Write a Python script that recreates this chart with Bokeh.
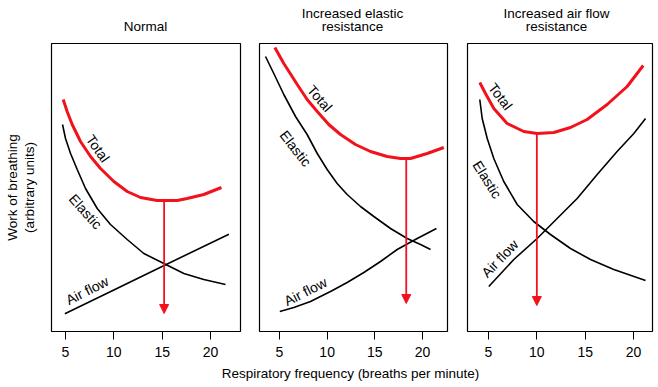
from bokeh.plotting import figure
from bokeh.layouts import row, column
from bokeh.models import Range1d, FixedTicker, Arrow, NormalHead
from bokeh.core.properties import value
from bokeh.embed import file_html
from bokeh.resources import INLINE

FONT = "Liberation Sans"
RED = "#f2121c"

freq_ticks = [5, 10, 15, 20]
panel_titles = ["Normal", "Increased elastic", "resistance", "Increased air flow", "resistance"]
x_label = "Respiratory frequency (breaths per minute)"
y_label = "Work of breathing\n(arbitrary units)"
curve_names = ["Total", "Elastic", "Air flow"]

# ---- Panel 1: Normal ----
normal_total_x = [4.76, 5.17, 5.69, 6.55, 7.59, 8.62, 10.0, 11.38, 12.76, 14.48, 15.17, 16.55, 17.58, 19.3, 21.13]
normal_total_y = [232, 220, 207, 190, 175, 163, 150, 140, 134, 131, 131, 131, 133, 137, 144]
normal_elastic_x = [4.69, 5.0, 5.52, 6.21, 7.07, 8.28, 9.65, 11.38, 13.1, 15.17, 17.24, 19.3, 21.55]
normal_elastic_y = [207, 193, 178, 162, 143, 123, 107, 92, 78, 68, 58, 52, 47]
normal_airflow_x = [4.93, 10.0, 15.2, 21.9]
normal_airflow_y = [17.7, 41.5, 66.0, 97.3]
normal_optimum = 15.2
normal_arrow_y = [131, 18]

# ---- Panel 2: Increased elastic resistance ----
elastic_total_x = [4.51, 5.45, 6.86, 7.9, 8.96, 10.17, 11.4, 12.97, 14.55, 16.3, 17.7, 18.75, 20.5, 22.24]
elastic_total_y = [284, 268, 247, 232, 220, 207, 197, 187, 180, 175, 173, 173, 178, 184]
elastic_elastic_x = [3.53, 4.4, 5.45, 6.68, 7.9, 8.96, 10.0, 11.05, 12.1, 13.5, 14.9, 16.65, 18.4, 19.8, 20.85]
elastic_elastic_y = [275, 258, 237, 215, 197, 178, 162, 148, 137, 125, 115, 103, 93, 87, 82]
elastic_airflow_x = [5.03, 6.5, 8.25, 10.35, 12.1, 13.85, 15.6, 17.35, 19.45, 21.47]
elastic_airflow_y = [20, 24, 30, 40, 49, 59, 70, 82, 93, 103]
elastic_optimum = 18.3
elastic_arrow_y = [173, 28]

# ---- Panel 3: Increased air flow resistance ----
airflow_total_x = [4.1, 4.69, 5.55, 6.93, 8.65, 10.03, 11.75, 13.48, 15.2, 17.27, 19.34, 21.0]
airflow_total_y = [249, 238, 223, 208, 200, 198, 199, 204, 212, 227, 245, 266]
airflow_elastic_x = [4.1, 4.35, 4.87, 5.55, 6.58, 7.97, 9.68, 11.41, 13.48, 15.55, 17.96, 21.24]
airflow_elastic_y = [232, 213, 193, 173, 150, 127, 110, 97, 83, 72, 62, 51]
airflow_airflow_x = [5.03, 7.62, 10.03, 12.1, 14.17, 16.24, 18.3, 20.03, 21.24]
airflow_airflow_y = [45, 72, 93, 113, 133, 157, 180, 198, 213]
airflow_optimum = 10.0
airflow_arrow_y = [198, 26]

# curve label positions (x, y, angle deg)
label_pos = [
    [(8.34, 183, -55), (7.07, 120, -48), (7.24, 41, 27)],
    [(9.23, 233, -49), (6.68, 183, -52), (7.73, 40, 27)],
    [(6.24, 235, -53), (4.87, 152, -58), (6.17, 73, 46)],
]

panels = [
    (normal_total_x, normal_total_y, normal_elastic_x, normal_elastic_y,
     normal_airflow_x, normal_airflow_y, normal_optimum, normal_arrow_y),
    (elastic_total_x, elastic_total_y, elastic_elastic_x, elastic_elastic_y,
     elastic_airflow_x, elastic_airflow_y, elastic_optimum, elastic_arrow_y),
    (airflow_total_x, airflow_total_y, airflow_elastic_x, airflow_elastic_y,
     airflow_airflow_x, airflow_airflow_y, airflow_optimum, airflow_arrow_y),
]

x_ranges = [(3.55, 23.1), (2.90, 22.63), (2.83, 21.96)]
frame_widths = [189, 188, 185]
borders_lr = [(51, 9), (10, 10), (10, 6)]

# title strip above the panels (text positions in strip pixels)
title_x = [145, 352, 352, 556, 556]
title_y = [16, 29.5, 16, 29.5, 16]
pt = figure(frame_width=658, frame_height=42, output_backend="svg", toolbar_location=None,
            x_range=Range1d(0, 658), y_range=Range1d(0, 42),
            x_axis_location=None, y_axis_location=None, min_border=0)
pt.grid.visible = False
pt.outline_line_color = None
pt.text(title_x, title_y, text=panel_titles, text_align="center", text_baseline="middle",
        text_font=value(FONT), text_font_size="13.5px", text_color="black")

figs = []
for i, (tx, ty, ex, ey, ax, ay, opt, arr) in enumerate(panels):
    p = figure(frame_width=frame_widths[i], frame_height=288,
               output_backend="svg", toolbar_location=None,
               x_range=Range1d(*x_ranges[i]), y_range=Range1d(0, 288),
               y_axis_location="left" if i == 0 else None,
               min_border_left=borders_lr[i][0], min_border_right=borders_lr[i][1],
               min_border_top=1, min_border_bottom=32)
    p.grid.visible = False
    p.outline_line_color = "black"
    p.outline_line_width = 1.2
    p.outline_line_alpha = 1
    p.background_fill_color = "white"
    p.border_fill_color = "white"

    xa = p.xaxis[0]
    xa.ticker = FixedTicker(ticks=freq_ticks)
    xa.axis_line_color = None
    xa.major_tick_in = 0
    xa.major_tick_out = 8
    xa.major_tick_line_color = "black"
    xa.minor_tick_line_color = None
    xa.major_label_text_font = FONT
    xa.major_label_text_font_size = "14px"
    xa.major_label_text_color = "black"
    xa.major_label_standoff = 7
    if i == 0:
        ya = p.yaxis[0]
        ya.ticker = FixedTicker(ticks=[])
        ya.axis_line_color = None
        ya.major_tick_line_color = None
        ya.minor_tick_line_color = None
        ya.major_tick_out = 0
        ya.major_tick_in = 0
        ya.major_label_standoff = 0
        ya.axis_label = y_label
        ya.axis_label_text_font = FONT
        ya.axis_label_text_font_size = "13.5px"
        ya.axis_label_text_font_style = "normal"
        ya.axis_label_text_color = "black"
        ya.axis_label_text_line_height = 1.1
        ya.axis_label_standoff = 15

    p.line(ex, ey, line_color="black", line_width=1.6)
    p.line(ax, ay, line_color="black", line_width=1.6)
    p.line(tx, ty, line_color=RED, line_width=3)
    p.add_layout(Arrow(end=NormalHead(size=9, fill_color=RED, line_color=RED),
                       x_start=opt, y_start=arr[0], x_end=opt, y_end=arr[1],
                       line_color=RED, line_width=1.8))

    lx = [lp[0] for lp in label_pos[i]]
    ly = [lp[1] for lp in label_pos[i]]
    la = [lp[2] for lp in label_pos[i]]
    p.text(lx, ly, text=curve_names, angle=la, angle_units="deg",
           text_align="center", text_baseline="middle",
           text_font=value(FONT), text_font_size="14px", text_color="black")
    figs.append(p)

# shared x-axis label strip below the panels
pb = figure(frame_width=658, frame_height=24, output_backend="svg", toolbar_location=None,
            x_range=Range1d(0, 658), y_range=Range1d(0, 24),
            x_axis_location=None, y_axis_location=None, min_border=0)
pb.grid.visible = False
pb.outline_line_color = None
pb.text([350], [14], text=[x_label], text_align="center", text_baseline="middle",
        text_font=value(FONT), text_font_size="13.5px", text_color="black")

layout = column(pt, row(*figs), pb)
open("out.html", "w").write(file_html(layout, INLINE))
